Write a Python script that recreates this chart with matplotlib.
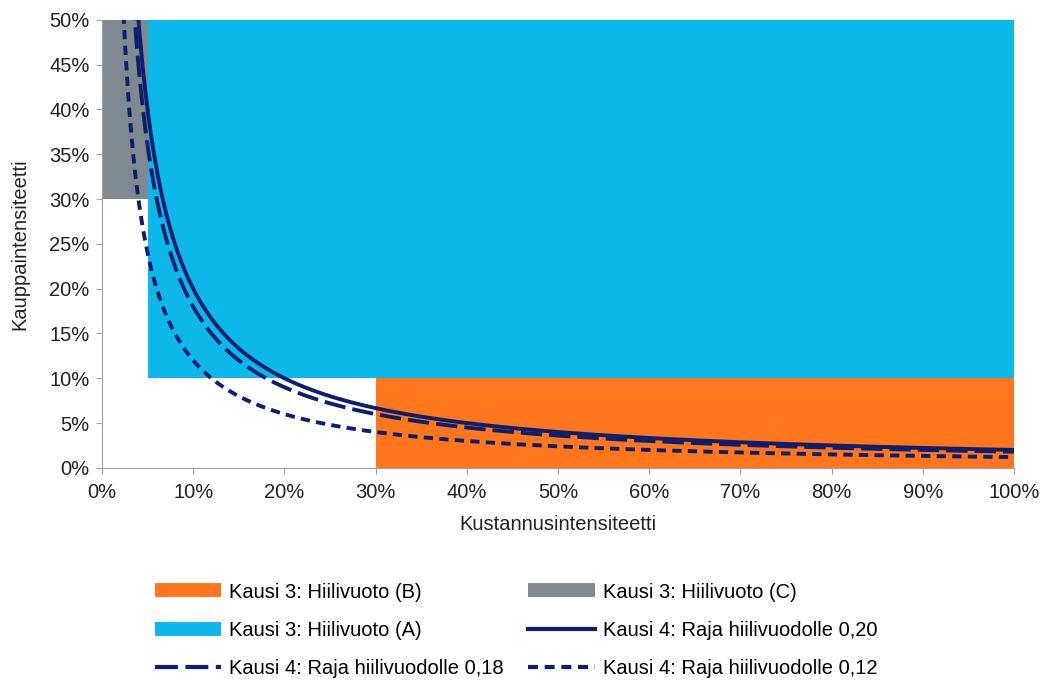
import numpy as np
import matplotlib.pyplot as plt
from matplotlib.lines import Line2D
from matplotlib.ticker import PercentFormatter

plt.rcParams["font.family"] = ["Liberation Sans", "DejaVu Sans"]

# Kausi 3 regions
region_labels = ["Kausi 3: Hiilivuoto (B)", "Kausi 3: Hiilivuoto (A)", "Kausi 3: Hiilivuoto (C)"]
region_x0 = [0.30, 0.05, 0.00]
region_x1 = [1.00, 1.00, 0.05]
region_y0 = [0.00, 0.10, 0.30]
region_y1 = [0.10, 0.50, 0.50]
region_colors = ["#ff761c", "#0cb8ea", "#7f8a90"]

# Kausi 4 thresholds: curve is trade intensity * cost intensity = threshold / 10
thresholds = [0.20, 0.18, 0.12]
threshold_labels = ["Kausi 4: Raja hiilivuodolle 0,20",
                    "Kausi 4: Raja hiilivuodolle 0,18",
                    "Kausi 4: Raja hiilivuodolle 0,12"]
navy = "#0c1f6e"
dash_styles = ["-", (0, (5.5, 1.8)), (0, (2.4, 1.6))]

fs = 14.5
fig = plt.figure(figsize=(10.4, 6.82), dpi=100)
ax = fig.add_axes([0.098, 0.314, 0.877, 0.657])

for x0, x1, y0, y1, c in zip(region_x0, region_x1, region_y0, region_y1, region_colors):
    ax.bar(x0, y1 - y0, width=x1 - x0, bottom=y0, align="edge", color=c, linewidth=0, zorder=1)

x = np.linspace(0.015, 1.0, 600)
for t, ls in zip(thresholds, dash_styles):
    ax.plot(x, (t / 10) / x, color=navy, linewidth=2.8, linestyle=ls, zorder=3)

ax.set_xlim(0, 1.0)
ax.set_ylim(0, 0.5)
ax.set_xticks(np.arange(0, 1.01, 0.1))
ax.set_yticks(np.arange(0, 0.501, 0.05))
ax.xaxis.set_major_formatter(PercentFormatter(1.0, decimals=0))
ax.yaxis.set_major_formatter(PercentFormatter(1.0, decimals=0))
ax.tick_params(labelsize=fs, colors="#a0a0a0", length=4, labelcolor="#222222")
ax.tick_params(axis="x", pad=7)
ax.tick_params(axis="y", pad=5)
for s in ["top", "right"]:
    ax.spines[s].set_visible(False)
for s in ["left", "bottom"]:
    ax.spines[s].set_color("#a0a0a0")
ax.set_xlabel("Kustannusintensiteetti", fontsize=fs, labelpad=9, color="#222222")
ax.set_ylabel("Kauppaintensiteetti", fontsize=fs, labelpad=14, color="#222222")

h_b = Line2D([], [], color=region_colors[0], linewidth=10, solid_capstyle="butt")
h_a = Line2D([], [], color=region_colors[1], linewidth=10, solid_capstyle="butt")
h_c = Line2D([], [], color=region_colors[2], linewidth=10, solid_capstyle="butt")
h_20 = Line2D([], [], color=navy, linewidth=3, linestyle=dash_styles[0])
h_18 = Line2D([], [], color=navy, linewidth=3, linestyle=dash_styles[1])
h_12 = Line2D([], [], color=navy, linewidth=3, linestyle=dash_styles[2])

fig.legend([h_b, h_a, h_18, h_c, h_20, h_12],
           [region_labels[0], region_labels[1], threshold_labels[1],
            region_labels[2], threshold_labels[0], threshold_labels[2]],
           ncol=2, loc="center left", bbox_to_anchor=(0.149, 0.076), frameon=False,
           fontsize=fs, handlelength=3.3, handletextpad=0.4, columnspacing=1.2,
           labelspacing=0.95, borderpad=0, borderaxespad=0)

fig.savefig("out.png", dpi=100)
